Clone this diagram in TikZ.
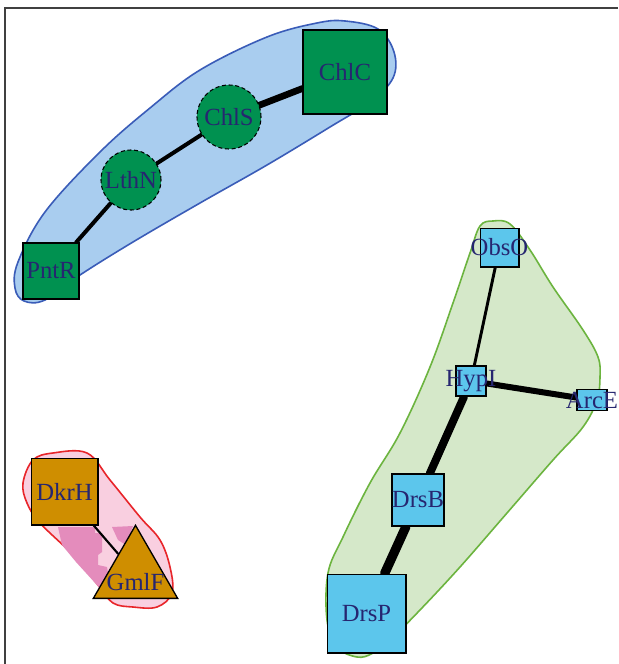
\documentclass[tikz,border=0pt]{standalone}
\usepackage{fontspec}
\setmainfont{Liberation Serif}
\usetikzlibrary{shapes.geometric}
\pgfdeclarelayer{bg}
\pgfsetlayers{bg,main}
\definecolor{txtnavy}{RGB}{38,38,112}
\definecolor{gnode}{RGB}{0,145,80}
\definecolor{bnode}{RGB}{92,198,236}
\definecolor{onode}{RGB}{207,142,0}
\definecolor{bfill}{RGB}{169,205,239}
\definecolor{bline}{RGB}{58,92,184}
\definecolor{gfill}{RGB}{213,232,201}
\definecolor{gline}{RGB}{108,180,63}
\definecolor{pfill}{RGB}{249,207,224}
\definecolor{pdark}{RGB}{228,140,188}
\definecolor{rline}{RGB}{232,37,42}
\definecolor{framec}{RGB}{64,64,64}
\tikzset{
  lbl/.style={font=\fontsize{18.5}{20}\selectfont, text=txtnavy},
  sqnode/.style={draw=black, line width=1pt, inner sep=0pt, lbl},
  gsq/.style={sqnode, fill=gnode},
  bsq/.style={sqnode, fill=bnode},
  osq/.style={sqnode, fill=onode},
  gcirc/.style={circle, draw=black, densely dashed, line width=0.8pt, fill=gnode, inner sep=0pt, lbl},
  link/.style={draw=black, line cap=round},
  blob/.style={line width=1.2pt}
}
\begin{document}
\begin{tikzpicture}[x=0.75pt, y=-0.75pt]
\useasboundingbox (0,0) rectangle (618,664);

% blobs
\begin{pgfonlayer}{bg}
\fill[white] (0,0) rectangle (618,664);
\draw[framec, line width=1.2pt] (5,664) -- (5,8) -- (618,8);
\draw[blob, draw=bline, fill=bfill] plot[smooth cycle, tension=0.6] coordinates {
 (317,23) (345,21) (378,29) (394,52) (393,78) (370,102) (330,127) (267,165)
 (200,203) (133,242) (80,275) (45,300) (24,301) (15,288) (18,262) (45,212)
 (100,152) (150,108) (200,70) (267,37)};
\draw[blob, draw=gline, fill=gfill] plot[smooth cycle, tension=0.6] coordinates {
 (480,226) (493,221) (510,224) (530,250) (553,287) (583,330) (598,357) (600,377)
 (597,400) (583,427) (553,460) (507,513) (460,567) (420,610) (393,637) (373,653)
 (357,657) (337,647) (327,620) (328,573) (343,537) (370,483) (400,433) (430,367)
 (453,303) (470,253)};
\draw[blob, draw=rline, fill=pfill] plot[smooth cycle, tension=0.6] coordinates {
 (23,483) (33,460) (53,453) (87,453) (110,480) (140,517) (160,540) (170,567)
 (172,593) (157,607) (133,607) (113,603) (98,585) (73,555) (40,523) (27,503)};
\fill[pdark] (58,527) -- (95,527) -- (95,533) -- (102,533) -- (102,552) -- (98,555)
 -- (98,565) -- (107,567) -- (109,578) -- (116,584) -- (104,592) -- (96,584)
 -- (76,562) -- (62,545) -- cycle;
\fill[pdark] (112,527) -- (133,526) -- (126,545) -- (118,540) -- cycle;
\end{pgfonlayer}

% nodes: blue group
\node[gsq, minimum size=42pt] (PntR) at (51,271) {PntR};
\node[gcirc, minimum size=45pt] (LthN) at (131,180) {LthN};
\node[gcirc, minimum size=48pt] (ChlS) at (229,117) {ChlS};
\node[gsq, minimum size=63pt] (ChlC) at (345,72) {ChlC};

% nodes: green group
\node[bsq, minimum size=29pt] (ObsO) at (499.5,247.5) {\makebox[0pt]{ObsO}};
\node[bsq, minimum size=22.5pt] (HypI) at (471,381) {\makebox[0pt]{HypI}};
\node[bsq, minimum width=22.5pt, minimum height=16pt] (ArcE) at (592,400) {\makebox[0pt]{ArcE}};
\node[bsq, minimum size=39pt] (DrsB) at (418,500) {DrsB};
\node[bsq, minimum size=59pt] (DrsP) at (366.5,613.5) {DrsP};

% nodes: pink group
\node[osq, minimum size=50pt] (DkrH) at (64.5,491.5) {DkrH};
\node[regular polygon, regular polygon sides=3, draw=black, line width=1pt, fill=onode,
  inner sep=0pt, minimum size=73pt,
  label={[lbl, yshift=-6pt]center:GmlF}] (GmlF) at (135.5,574) {};

% connectors
\begin{pgfonlayer}{bg}
\draw[link, line width=3pt] (PntR) -- (LthN);
\draw[link, line width=3pt] (LthN) -- (ChlS);
\draw[link, line width=5pt] (ChlS) -- (ChlC);
\draw[link, line width=2.2pt] (ObsO) -- (HypI);
\draw[link, line width=4.5pt] (HypI) -- (ArcE);
\draw[link, line width=6pt] (HypI) -- (DrsB);
\draw[link, line width=7pt] (DrsB) -- (DrsP);
\draw[link, line width=1.6pt] (DkrH) -- (GmlF);
\end{pgfonlayer}
\end{tikzpicture}
\end{document}
